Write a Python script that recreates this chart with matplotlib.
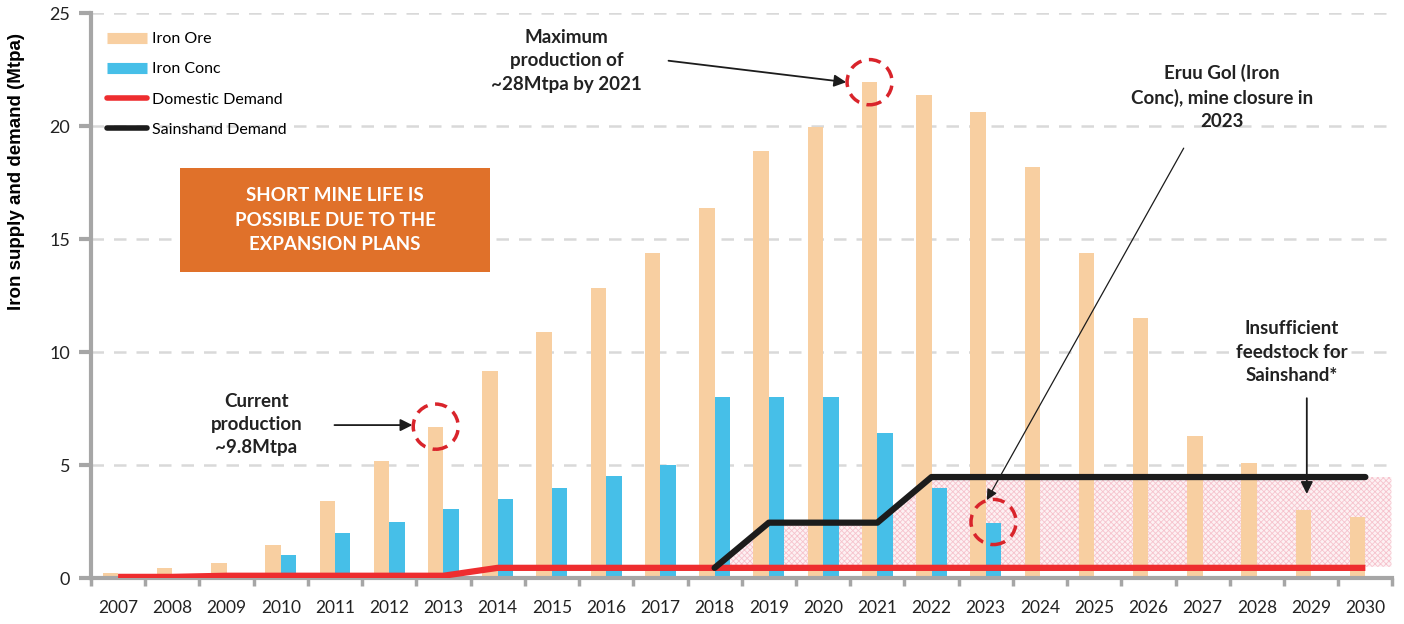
import numpy as np
import matplotlib
matplotlib.use("Agg")
import matplotlib.pyplot as plt
from matplotlib.lines import Line2D
from matplotlib.patches import Ellipse, Rectangle

years = list(range(2007, 2031))
iron_ore = [0.22, 0.44, 0.66, 1.46, 3.4, 5.2, 6.7, 9.15, 10.9, 12.85, 14.4, 16.4,
            18.9, 19.95, 21.95, 21.4, 20.65, 18.2, 14.4, 11.5, 6.3, 5.1, 3.0, 2.7]
iron_conc = [0, 0, 0.2, 1.0, 2.0, 2.5, 3.05, 3.5, 4.0, 4.5, 5.0, 8.0,
             8.0, 8.0, 6.4, 4.0, 2.43, 0, 0, 0, 0, 0, 0, 0]
domestic = [0.05, 0.05, 0.1, 0.1, 0.1, 0.1, 0.1] + [0.45] * 17
sainshand_years = list(range(2018, 2031))
sainshand = [0.45, 2.45, 2.45, 2.45] + [4.47] * 9

C_ORE = "#f8cfa1"
C_CONC = "#46bfe8"
C_RED = "#ee2d2f"
C_BLACK = "#1c1c1c"
C_GREY = "#a6a6a6"
C_CIRCLE = "#d9242b"

plt.rcParams["font.family"] = ["Lato", "DejaVu Sans"]
plt.rcParams["hatch.linewidth"] = 0.6

fig = plt.figure(figsize=(14.04, 6.24), dpi=100)
ax = fig.add_axes([0.0648, 0.0737, 0.927, 0.905])

x = np.arange(len(years))
w = 0.285
sx = np.array([years.index(y) for y in sainshand_years])

# pink hatched shortfall region
fx = np.append(sx, sx[-1] + 0.48)
ftop = np.append(sainshand, sainshand[-1])
fbot = np.full(len(fx), domestic[-1] + 0.05)
ax.fill_between(fx, fbot, ftop, facecolor="#fdf1f3", edgecolor="#f6c3cd",
                hatch="xxxxxx", linewidth=0, zorder=1)

ax.bar(x - w / 2, iron_ore, w, color=C_ORE, zorder=2, label="Iron Ore")
ax.bar(x + w / 2, iron_conc, w, color=C_CONC, zorder=2, label="Iron Conc")
ax.plot(x, domestic, color=C_RED, lw=4.5, zorder=4, solid_capstyle="butt")
ax.plot(sx, sainshand, color=C_BLACK, lw=4.5, zorder=4, solid_capstyle="round")

ax.set_xlim(-0.5, len(years) - 0.5)
ax.set_ylim(0, 25)
ax.set_yticks([0, 5, 10, 15, 20, 25])
ax.set_xticks(x)
ax.set_xticklabels([str(y) for y in years], fontsize=12.5, color="#222222")
ax.set_xticks(np.arange(-0.5, len(years)), minor=True)
ax.tick_params(axis="x", which="major", length=0, pad=16)
ax.tick_params(axis="x", which="minor", length=6, width=2.5, color=C_GREY)
ax.tick_params(axis="y", length=9, width=3, color=C_GREY, labelsize=13,
               labelcolor="#222222", pad=6)
for s in ["top", "right"]:
    ax.spines[s].set_visible(False)
for s in ["left", "bottom"]:
    ax.spines[s].set_color(C_GREY)
    ax.spines[s].set_linewidth(3)
ax.yaxis.grid(True, linestyle=(0, (5, 4)), color="#d9d9d9", lw=1.8)
ax.set_axisbelow(True)
ax.set_ylabel("Iron supply and demand (Mtpa)", fontsize=13.5, fontweight="bold",
              family=["Liberation Sans", "DejaVu Sans"])
ax.yaxis.set_label_coords(-0.0505, 0.72)

handles = [Line2D([], [], color=C_ORE, lw=8, solid_capstyle="butt"),
           Line2D([], [], color=C_CONC, lw=8, solid_capstyle="butt"),
           Line2D([], [], color=C_RED, lw=4, solid_capstyle="round"),
           Line2D([], [], color=C_BLACK, lw=4, solid_capstyle="round")]
labels = ["Iron Ore", "Iron Conc", "Domestic Demand", "Sainshand Demand"]
ax.legend(handles, labels, loc="upper left", bbox_to_anchor=(0.0, 0.995),
          frameon=False, fontsize=11.5, handlelength=2.5, handletextpad=0.35,
          labelspacing=1.0, borderaxespad=0.6)

# orange message box
ax.add_patch(Rectangle((0.0684, 0.5416), 0.2383, 0.1841, transform=ax.transAxes,
                       facecolor="#e0712a", edgecolor="none", zorder=5))
ax.text(0.1876, 0.6337, "SHORT MINE LIFE IS\nPOSSIBLE DUE TO THE\nEXPANSION PLANS",
        transform=ax.transAxes, ha="center", va="center", fontsize=13.5,
        fontweight="bold", color="white", linespacing=1.55, zorder=6)

# dashed circles
def ring(xc, yc):
    ax.add_patch(Ellipse((xc, yc), 0.83, 2.0, fill=False, edgecolor=C_CIRCLE,
                         lw=2.5, linestyle=(0, (3.5, 2.2)), zorder=6))

i21, i13, i23 = years.index(2021), years.index(2013), years.index(2023)
ring(i21 - w / 2, iron_ore[i21])
ring(i13 - w / 2, iron_ore[i13])
ring(i23 + w / 2, iron_conc[i23] + 0.05)

txt = dict(ha="center", va="center", fontsize=13.5, fontweight="bold",
           color="#222222", linespacing=1.45)
arr = dict(arrowstyle="-|>", color=C_BLACK, lw=1.3, mutation_scale=18,
           shrinkA=0, shrinkB=0)

ax.text(8.27, 22.9, "Maximum\nproduction of\n~28Mtpa by 2021", **txt)
ax.annotate("", xy=(i21 - w / 2 - 0.43, 21.95), xytext=(10.15, 22.9),
            arrowprops=arr)

ax.text(2.55, 6.8, "Current\nproduction\n~9.8Mtpa", **txt)
ax.annotate("", xy=(i13 - w / 2 - 0.43, 6.77), xytext=(3.99, 6.77),
            arrowprops=arr)

ax.text(20.35, 21.3, "Eruu Gol (Iron\nConc), mine closure in\n2023", **txt)
ax.annotate("", xy=(i23 + 0.02, 3.45), xytext=(19.65, 19.03),
            arrowprops=dict(arr, lw=0.9, mutation_scale=16))

ax.text(21.64, 10.0, "Insufficient\nfeedstock for\nSainshand*", **txt)
ax.annotate("", xy=(21.92, 3.72), xytext=(21.92, 7.96), arrowprops=arr)

fig.savefig("out.png", dpi=100)
